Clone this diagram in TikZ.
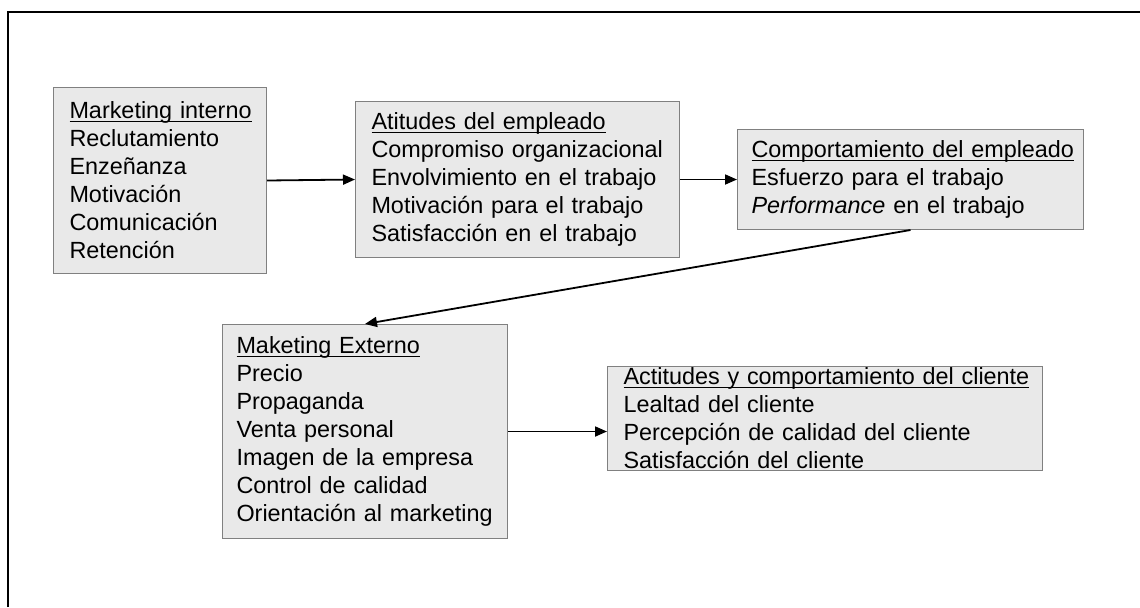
\documentclass[tikz,border=0pt]{standalone}
\usepackage{fontspec}
\setmainfont{Liberation Sans}
\usetikzlibrary{arrows.meta}

\definecolor{fondo}{RGB}{233,233,233}
\definecolor{borde}{RGB}{128,128,128}

% titulo subrayado justo bajo la linea base
\newcommand{\titulo}[1]{\setbox0\hbox{#1}\rlap{\rule[-1.7pt]{\wd0}{0.6pt}}\box0}

\tikzset{
    caja/.style={rectangle, draw=borde, fill=fondo, line width=0.5pt, anchor=north west,
        inner xsep=8pt, inner ysep=0pt, align=left,
        font=\fontsize{11.7}{14}\selectfont},
    flecha/.style={draw=black, line width=0.9pt, -{Triangle[length=6pt, width=5pt]}}
}

\begin{document}
\begin{tikzpicture}[x=0.5pt, y=-0.5pt]
    \useasboundingbox (0,0) rectangle (1140,607);
    % marco
    \draw [line width=1.2pt] (8,607) -- (8,12) -- (1140,12);

    \node (b1)[caja, text width=90.5pt, minimum height=93pt] at (53, 87)
        {\titulo{Marketing interno}\\Reclutamiento\\Enzeñanza\\Motivación\\Comunicación\\Retención};
    \node (b2)[caja, text width=146pt, minimum height=78pt] at (355, 101)
        {\titulo{Atitudes del empleado}\\Compromiso organizacional\\Envolvimiento en el trabajo\\Motivación para el trabajo\\Satisfacción en el trabajo};
    \node (b3)[caja, inner xsep=7pt, text width=159pt, minimum height=50pt] at (737, 129)
        {\titulo{Comportamiento del empleado}\\Esfuerzo para el trabajo\\\textit{Performance} en el trabajo};
    \node (b4)[caja, inner xsep=7pt, text width=128.5pt, minimum height=107pt] at (222, 324)
        {\titulo{Maketing Externo}\\Precio\\Propaganda\\Venta personal\\Imagen de la empresa\\Control de calidad\\Orientación al marketing};
    \node (b5)[caja, text width=201.5pt, minimum height=52pt] at (607, 366)
        {\titulo{Actitudes y comportamiento del cliente}\\Lealtad del cliente\\Percepción de calidad del cliente\\Satisfacción del cliente};

    \draw [flecha] (b1.east) -- (b2.west);
    \draw [flecha] (b2.east) -- (b3.west);
    \draw [flecha] (b3.south) -- (b4.north);
    \draw [flecha] (b4.east) -- (b4.east -| b5.west);
\end{tikzpicture}
\end{document}
